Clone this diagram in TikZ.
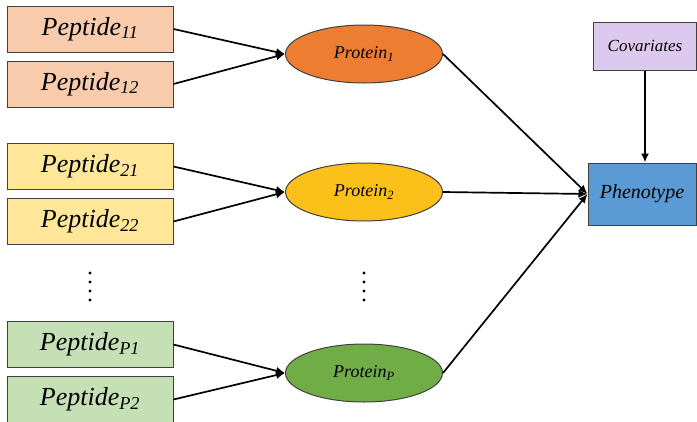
\documentclass[tikz,border=0pt]{standalone}
\usepackage{fontspec}
\setmainfont{Liberation Serif}
\usetikzlibrary{shapes.geometric,arrows.meta,positioning}
\definecolor{pepa}{HTML}{F8CBAD}
\definecolor{pepb}{HTML}{FFE699}
\definecolor{pepc}{HTML}{C5E0B4}
\definecolor{prota}{HTML}{ED7D31}
\definecolor{protb}{HTML}{FBC01A}
\definecolor{protc}{HTML}{70AD47}
\definecolor{covar}{HTML}{DDC9EE}
\definecolor{pheno}{HTML}{5B9BD5}
\begin{document}
\begin{tikzpicture}[x=1pt,y=-1pt,% one unit is one pixel of the figure, y runs down
			every node/.style={
				align=center,			% so that "\\" works
				draw=black!75,line width=1pt
			},
			pepbox/.style={rectangle,minimum width=166pt,minimum height=46pt,font=\fontsize{26}{28}\selectfont\itshape},
			protell/.style={ellipse,minimum width=157pt,minimum height=58pt,font=\fontsize{18}{20}\selectfont\itshape},
			every edge/.style={draw,line width=1.7pt,-{Latex[length=9pt,width=8pt]}}
		]
		\useasboundingbox (0,0) rectangle (697,421);
		% peptides
		\node[pepbox,fill=pepa](Pep11) at (90,29){Peptide\textsubscript{11}};
		\node[pepbox,fill=pepa](Pep12)[below=8pt of Pep11]{Peptide\textsubscript{12}};
		\node[pepbox,fill=pepb](Pep21) at (90,166.5){Peptide\textsubscript{21}};
		\node[pepbox,fill=pepb](Pep22)[below=8pt of Pep21]{Peptide\textsubscript{22}};
		\node[pepbox,fill=pepc](PepP1) at (90,344.5){Peptide\textsubscript{P1}};
		\node[pepbox,fill=pepc](PepP2)[below=8pt of PepP1]{Peptide\textsubscript{P2}};
		% proteins
		\node[protell,fill=prota](Prot1) at (364,54){Protein\textsubscript{1}};
		\node[protell,fill=protb](Prot2) at (364,192){Protein\textsubscript{2}};
		\node[protell,fill=protc](ProtP) at (364,373){Protein\textsubscript{P}};
		% outcome
		\node[rectangle,fill=pheno,minimum width=108pt,minimum height=62pt,font=\fontsize{20}{22}\selectfont\itshape](Phen) at (642,194){Phenotype};
		\node[rectangle,fill=covar,minimum width=103pt,minimum height=48pt,font=\fontsize{17}{19}\selectfont\itshape](Cov) at (645,46){Covariates};
		% dots
		\foreach \y in {273,282,291,300}{
			\fill (90,\y) circle (1.6pt);
			\fill (364,\y) circle (1.6pt);
		}
		\path
		(Pep11.east)edge(Prot1.west)
		(Pep12.east)edge(Prot1.west)
		(Pep21.east)edge(Prot2.west)
		(Pep22.east)edge(Prot2.west)
		(PepP1.east)edge(ProtP.west)
		(PepP2.east)edge(ProtP.west)
		(Prot1.east)edge(Phen.west)
		(Prot2.east)edge(Phen.west)
		(ProtP.east)edge(Phen.west)
		(Cov.south)edge(Cov.south |- Phen.north)
		;
	\end{tikzpicture}
\end{document}
